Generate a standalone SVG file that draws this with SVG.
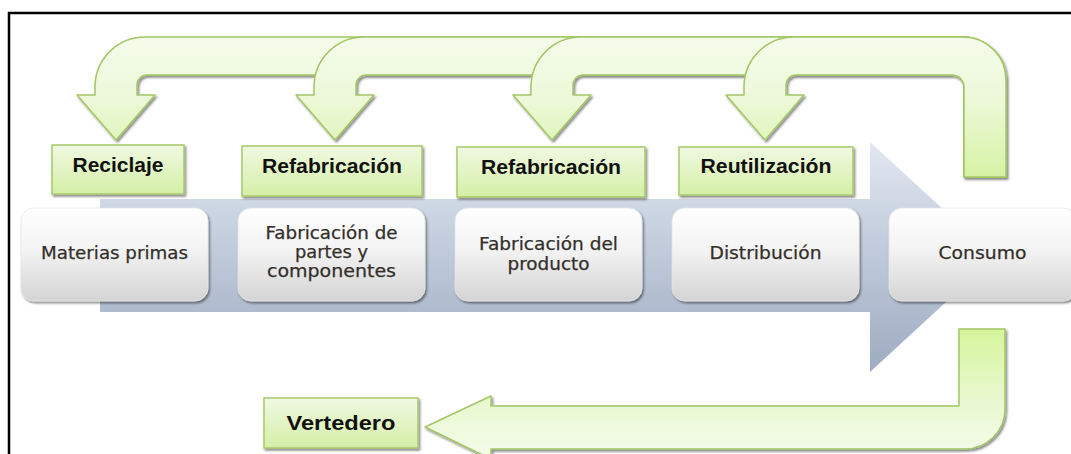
<svg xmlns="http://www.w3.org/2000/svg" width="1071" height="454" viewBox="0 0 1071 454">
<defs>
  <linearGradient id="gBlue" gradientUnits="userSpaceOnUse" x1="0" y1="142" x2="0" y2="372">
    <stop offset="0" stop-color="#e2e8f1"/>
    <stop offset="0.3" stop-color="#ccd5e3"/>
    <stop offset="1" stop-color="#9dabc1"/>
  </linearGradient>
  <linearGradient id="gWhite" x1="0" y1="0" x2="0" y2="1">
    <stop offset="0" stop-color="#ffffff"/>
    <stop offset="0.45" stop-color="#f3f3f3"/>
    <stop offset="1" stop-color="#d4d4d4"/>
  </linearGradient>
  <linearGradient id="gLbl" x1="0" y1="0" x2="0" y2="1">
    <stop offset="0" stop-color="#f0f9e2"/>
    <stop offset="1" stop-color="#d4efa6"/>
  </linearGradient>
  <linearGradient id="gTop" gradientUnits="userSpaceOnUse" x1="0" y1="37" x2="0" y2="177">
    <stop offset="0" stop-color="#f5fbea"/>
    <stop offset="0.45" stop-color="#ecf9d8"/>
    <stop offset="1" stop-color="#d6f2a4"/>
  </linearGradient>
  <linearGradient id="gBot" gradientUnits="userSpaceOnUse" x1="0" y1="329" x2="0" y2="449">
    <stop offset="0" stop-color="#d6f59c"/>
    <stop offset="0.6" stop-color="#e8f8d0"/>
    <stop offset="1" stop-color="#f2fbe6"/>
  </linearGradient>
  <filter id="sh" x="-10%" y="-10%" width="130%" height="140%">
    <feDropShadow dx="1.5" dy="2" stdDeviation="1.2" flood-color="#000" flood-opacity="0.45"/>
  </filter>
</defs>
<style>
  .frame { fill: none; stroke: #000; stroke-width: 2.5; }
  .band { fill: url(#gBlue); }
  .node rect { fill: url(#gWhite); stroke: #e6e6e6; stroke-width: 0.8; filter: url(#sh); }
  .ntext { font-family: "DejaVu Sans", sans-serif; font-size: 17px; fill: #332f2a; stroke: #332f2a; stroke-width: 0.25; text-anchor: middle; }
  .lbl rect { fill: url(#gLbl); stroke: #a7c96d; stroke-width: 1.5; filter: url(#sh); }
  .ltext { font-family: "Liberation Sans", Arial, sans-serif; font-weight: bold; font-size: 20px; fill: #111; text-anchor: middle; }
  .garrow { fill: url(#gTop); stroke: #a3c666; stroke-width: 1.5; stroke-linejoin: round; }
  .garrowb { fill: url(#gBot); stroke: #a3c666; stroke-width: 1.5; stroke-linejoin: round; }
</style>

<rect width="1071" height="454" fill="#ffffff"/>
<path class="frame" d="M9 454 V13 H1071"/>

<!-- big process arrow -->
<g id="process-arrow">
  <polygon class="band" points="100,199 870,199 870,142 995,257 870,372 870,312 100,312"/>
</g>

<!-- connectors -->
<g id="connectors">
  <g filter="url(#sh)">
    <path class="garrow" d="M116 140 L77 95 L95 95 L95 87 A50 50 0 0 1 145 37 L963 37 A43 43 0 0 1 1006 80 L1006 177 L964 177 L964 87 A12 12 0 0 0 952 75 L147 75 A10 10 0 0 0 137 85 L137 95 L155 95 Z"/>
    <path class="garrow" d="M335 140 L296 95 L314 95 L314 87 A50 50 0 0 1 364 37 L963 37 A43 43 0 0 1 1006 80 L1006 177 L964 177 L964 87 A12 12 0 0 0 952 75 L366 75 A10 10 0 0 0 356 85 L356 95 L374 95 Z"/>
    <path class="garrow" d="M552 140 L513 95 L531 95 L531 87 A50 50 0 0 1 581 37 L963 37 A43 43 0 0 1 1006 80 L1006 177 L964 177 L964 87 A12 12 0 0 0 952 75 L583 75 A10 10 0 0 0 573 85 L573 95 L591 95 Z"/>
    <path class="garrow" d="M765 140 L726 95 L744 95 L744 87 A50 50 0 0 1 794 37 L963 37 A43 43 0 0 1 1006 80 L1006 177 L964 177 L964 87 A12 12 0 0 0 952 75 L796 75 A10 10 0 0 0 786 85 L786 95 L804 95 Z"/>
  </g>
  <path class="garrowb" filter="url(#sh)" d="M425 427 L491 396 L491 406 L959 406 L959 329 L1005 329 L1005 409 A40 40 0 0 1 965 449 L491 449 L491 459 Z"/>
</g>

<!-- process nodes -->
<g id="node-materias" class="node">
  <rect x="21" y="208" width="187" height="93" rx="13"/>
  <text class="ntext" x="114.5" y="259" textLength="147" lengthAdjust="spacingAndGlyphs">Materias primas</text>
</g>
<g id="node-partes" class="node">
  <rect x="238" y="208" width="187" height="93" rx="13"/>
  <text class="ntext" x="331.5" y="239" textLength="132" lengthAdjust="spacingAndGlyphs">Fabricación de</text>
  <text class="ntext" x="331.5" y="258" textLength="73" lengthAdjust="spacingAndGlyphs">partes y</text>
  <text class="ntext" x="331.5" y="277" textLength="129" lengthAdjust="spacingAndGlyphs">componentes</text>
</g>
<g id="node-producto" class="node">
  <rect x="455" y="208" width="187" height="93" rx="13"/>
  <text class="ntext" x="548.5" y="250" textLength="139" lengthAdjust="spacingAndGlyphs">Fabricación del</text>
  <text class="ntext" x="548.5" y="270" textLength="82" lengthAdjust="spacingAndGlyphs">producto</text>
</g>
<g id="node-distribucion" class="node">
  <rect x="672" y="208" width="187" height="93" rx="13"/>
  <text class="ntext" x="765.5" y="259" textLength="112" lengthAdjust="spacingAndGlyphs">Distribución</text>
</g>
<g id="node-consumo" class="node">
  <rect x="889" y="208" width="187" height="93" rx="13"/>
  <text class="ntext" x="982.5" y="259" textLength="88" lengthAdjust="spacingAndGlyphs">Consumo</text>
</g>

<!-- green labels -->
<g id="lbl-reciclaje" class="lbl">
  <rect x="52" y="145" width="132" height="49"/>
  <text class="ltext" x="118" y="172" textLength="91" lengthAdjust="spacingAndGlyphs">Reciclaje</text>
</g>
<g id="lbl-refabricacion-1" class="lbl">
  <rect x="242" y="146" width="180" height="50"/>
  <text class="ltext" x="332" y="173" textLength="140" lengthAdjust="spacingAndGlyphs">Refabricación</text>
</g>
<g id="lbl-refabricacion-2" class="lbl">
  <rect x="457" y="147" width="188" height="50"/>
  <text class="ltext" x="551" y="174" textLength="140" lengthAdjust="spacingAndGlyphs">Refabricación</text>
</g>
<g id="lbl-reutilizacion" class="lbl">
  <rect x="679" y="147" width="174" height="48"/>
  <text class="ltext" x="766" y="173" textLength="131" lengthAdjust="spacingAndGlyphs">Reutilización</text>
</g>
<g id="lbl-vertedero" class="lbl">
  <rect x="264" y="398" width="154" height="50"/>
  <text class="ltext" x="341" y="430" textLength="109" lengthAdjust="spacingAndGlyphs">Vertedero</text>
</g>
</svg>
